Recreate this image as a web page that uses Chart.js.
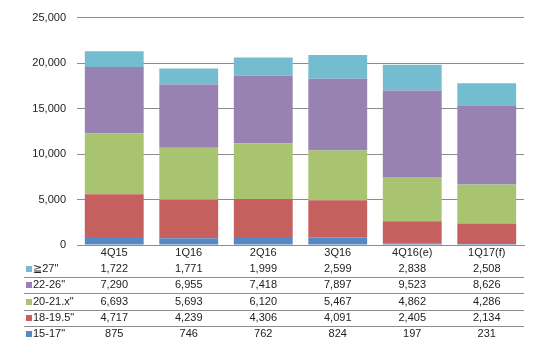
<!DOCTYPE html>
<html>
<head>
<meta charset="utf-8">
<script src="https://cdn.jsdelivr.net/npm/chart.js@4"></script>
<style>
    html, body { margin: 0; padding: 0; background: #fff; }
    #wrap { width: 539px; height: 350px; }
</style>
</head>
<body>
<div id="wrap"><canvas id="panelChart" width="539" height="350"></canvas></div>
<script>
// Quarterly shipments by panel size
const categories = ['4Q15', '1Q16', '2Q16', '3Q16', '4Q16(e)', '1Q17(f)'];
const size15to17 = [875, 746, 762, 824, 197, 231];
const size18to195 = [4717, 4239, 4306, 4091, 2405, 2134];
const size20to21 = [6693, 5693, 6120, 5467, 4862, 4286];
const size22to26 = [7290, 6955, 7418, 7897, 9523, 8626];
const size27up = [1722, 1771, 1999, 2599, 2838, 2508];
const yTicks = [0, 5000, 10000, 15000, 20000, 25000];

const FONT = 'Arial, "Liberation Sans", "DejaVu Sans", sans-serif';
const TEXT = '#222';
const RULE = '#8c8c8c';

// bottom to top in the stack
const series = [
    { label: '15-17"', data: size15to17, color: '#5787C4' },
    { label: '18-19.5"', data: size18to195, color: '#C6605F' },
    { label: '20-21.x"', data: size20to21, color: '#A8C470' },
    { label: '22-26"', data: size22to26, color: '#9882B2' },
    { label: '\u226727"', data: size27up, color: '#74BDD1' }
];

const fmt = v => v.toLocaleString('en-US');

// data table under the plot, aligned with the category columns
const tablePlugin = {
    id: 'dataTable',
    afterDraw(chart) {
        const ctx = chart.ctx;
        const x = chart.scales.x;
        const area = chart.chartArea;
        ctx.save();
        ctx.font = '11px ' + FONT;
        ctx.fillStyle = TEXT;
        ctx.textBaseline = 'middle';
        ctx.textAlign = 'center';

        categories.forEach((c, j) => {
            ctx.fillText(c, x.getPixelForValue(j), 253);
        });

        const rows = series.slice().reverse();
        const rowTop = 269;
        const rowStep = 16.3;
        rows.forEach((s, i) => {
            const y = rowTop + i * rowStep;
            ctx.fillStyle = s.color;
            ctx.fillRect(26, Math.round(y) - 3, 6, 6);
            ctx.fillStyle = TEXT;
            ctx.textAlign = 'left';
            ctx.fillText(s.label, 33, y);
            ctx.textAlign = 'center';
            s.data.forEach((v, j) => {
                ctx.fillText(fmt(v), x.getPixelForValue(j), y);
            });
            if (i < rows.length - 1) {
                const ly = Math.round(y + rowStep / 2) + 0.5;
                ctx.strokeStyle = RULE;
                ctx.lineWidth = 1;
                ctx.beginPath();
                ctx.moveTo(24, ly);
                ctx.lineTo(area.right, ly);
                ctx.stroke();
            }
        });
        ctx.restore();
    }
};

new Chart(document.getElementById('panelChart').getContext('2d'), {
    type: 'bar',
    data: {
        labels: categories,
        datasets: series.map(s => ({
            label: s.label,
            data: s.data,
            backgroundColor: s.color,
            borderWidth: 0,
            barPercentage: 0.79,
            categoryPercentage: 1
        }))
    },
    options: {
        responsive: false,
        animation: false,
        devicePixelRatio: 1,
        layout: { padding: { top: 14, right: 15, left: 0, bottom: 0 } },
        plugins: {
            legend: { display: false },
            tooltip: { enabled: false }
        },
        scales: {
            x: {
                stacked: true,
                grid: { display: false, drawTicks: false },
                border: { display: true, color: RULE, width: 1 },
                ticks: { display: false },
                afterFit(scale) { scale.height = 105; }
            },
            y: {
                stacked: true,
                min: 0,
                max: 25000,
                afterBuildTicks(scale) { scale.ticks = yTicks.map(v => ({ value: v })); },
                grid: { color: RULE, lineWidth: 1, drawTicks: false },
                border: { display: false },
                ticks: {
                    padding: 11,
                    color: TEXT,
                    font: { family: FONT, size: 11 },
                    callback: v => fmt(v)
                },
                afterFit(scale) { scale.width = 77; }
            }
        }
    },
    plugins: [tablePlugin]
});
</script>
</body>
</html>
